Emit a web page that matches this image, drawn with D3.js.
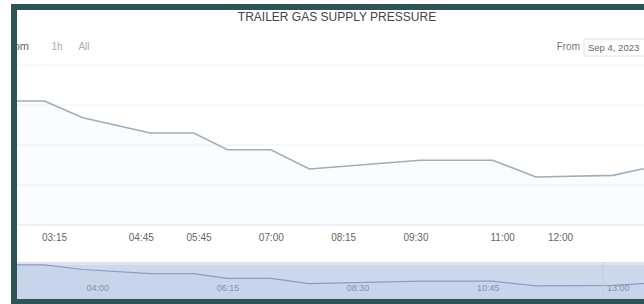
<!DOCTYPE html>
<html><head><meta charset="utf-8">
<script src="https://cdn.jsdelivr.net/npm/d3@7"></script>
<style>html,body{margin:0;padding:0;background:#fff;}svg{display:block;font-family:"Liberation Sans",Arial,sans-serif;}</style>
</head><body>
<svg id="c" width="644" height="304"></svg>
<script>
const title = "TRAILER GAS SUPPLY PRESSURE";
const times = ["02:20","03:05","03:45","04:55","05:40","06:15","07:00","07:40","09:35","10:50","11:35","12:55","13:25","14:25"];
const pressure = [155,155,134,115,115,94,94,70,81,81,60,62,70,78];
const xTickLabels = ["03:15","04:45","05:45","07:00","08:15","09:30","11:00","12:00"];
const navTickLabels = ["04:00","06:15","08:30","10:45","13:00"];
const yTicks = [0,50,100,150,200];
const rangeButtons = ["1h","All"];
const fromLabel = "From";
const fromDate = "Sep 4, 2023";

const toH = s => { const [h,m] = s.split(":").map(Number); return h + m/60; };
const data = times.map((t,i)=>({h:toH(t), v:pressure[i]}));

const svg = d3.select("#c");
const x = d3.scaleLinear().domain([toH("03:15"), toH("12:00")]).range([54, 560]);
const y = d3.scaleLinear().domain([0,200]).range([225,65]);
const yNav = d3.scaleLinear().domain([0,168]).range([299,262]);

const defs = svg.append("defs");
defs.append("clipPath").attr("id","pc").append("rect").attr("x",17).attr("y",60).attr("width",627).attr("height",170);
defs.append("clipPath").attr("id","nc").append("rect").attr("x",17).attr("y",262).attr("width",627).attr("height",37);

// gridlines
svg.append("g").selectAll("line").data(yTicks).join("line")
  .attr("x1",17).attr("x2",644).attr("y1",d=>y(d)).attr("y2",d=>y(d))
  .attr("stroke",d=>d===0?"#dfe3ea":"#f0f0f0").attr("stroke-width",1);

// title
svg.append("text").attr("x",337).attr("y",21).attr("text-anchor","middle")
  .attr("font-size",12).attr("fill","#444").text(title);

// range selector
svg.append("text").attr("x",29).attr("y",50).attr("text-anchor","end").attr("font-size",11).attr("fill","#666").text("Zoom");
svg.selectAll(".rb").data(rangeButtons).join("text").attr("class","rb")
  .attr("x",(d,i)=>57+i*27).attr("y",50).attr("text-anchor","middle").attr("font-size",10).attr("fill","#aaa").text(d=>d);
svg.append("text").attr("x",580).attr("y",50).attr("text-anchor","end").attr("font-size",10).attr("fill","#777").text(fromLabel);
svg.append("rect").attr("x",584).attr("y",39).attr("width",70).attr("height",17).attr("fill","#fff").attr("stroke","#e2e2e2");
svg.append("text").attr("x",588).attr("y",51).attr("font-size",9.5).attr("fill","#666").text(fromDate);

// area + line
const area = d3.area().x(d=>x(d.h)).y0(y(0)).y1(d=>y(d.v));
const line = d3.line().x(d=>x(d.h)).y(d=>y(d.v));
const pg = svg.append("g").attr("clip-path","url(#pc)");
pg.append("path").datum(data).attr("d",area).attr("fill","rgba(150,190,230,0.04)");
pg.append("path").datum(data).attr("d",line).attr("fill","none").attr("stroke","#9fadbb").attr("stroke-width",1.6);

// x axis labels
const xAxis = d3.axisBottom(x).tickValues(xTickLabels.map(toH)).tickFormat((d,i)=>xTickLabels[i]).tickSize(0).tickPadding(8);
const xg = svg.append("g").attr("transform","translate(0,226)").call(xAxis);
xg.select(".domain").remove();
xg.selectAll("text").attr("font-size",10).attr("fill","#666").attr("font-family","Liberation Sans, Arial, sans-serif");

// navigator
svg.append("rect").attr("x",17).attr("y",262).attr("width",627).attr("height",37).attr("fill","#cdd8ec");
svg.append("rect").attr("x",17).attr("y",262).attr("width",627).attr("height",3).attr("fill","#dce4f2");
const ng = svg.append("g").attr("clip-path","url(#nc)");
const navArea = d3.area().x(d=>x(d.h)).y0(299).y1(d=>yNav(d.v));
const navLine = d3.line().x(d=>x(d.h)).y(d=>yNav(d.v));
ng.append("path").datum(data).attr("d",navArea).attr("fill","rgba(120,140,190,0.05)");
ng.append("path").datum(data).attr("d",navLine).attr("fill","none").attr("stroke","#8a9cc4").attr("stroke-width",1.2);
const navAxis = d3.axisBottom(x).tickValues(navTickLabels.map(toH)).tickFormat((d,i)=>navTickLabels[i]).tickSize(0).tickPadding(0);
const nag = svg.append("g").attr("transform","translate(0,285)").call(navAxis);
nag.select(".domain").remove();
nag.selectAll("text").attr("font-size",9).attr("fill","#8890a8").attr("font-family","Liberation Sans, Arial, sans-serif");
svg.append("line").attr("x1",603).attr("x2",603).attr("y1",262).attr("y2",299).attr("stroke","#bfcbe2");

// frame border
svg.append("rect").attr("x",0).attr("y",0).attr("width",11).attr("height",304).attr("fill","#fff");
svg.append("rect").attr("x",0).attr("y",0).attr("width",644).attr("height",4).attr("fill","#fff");
svg.append("rect").attr("x",11).attr("y",4).attr("width",6).attr("height",300).attr("fill","#2e5457");
svg.append("rect").attr("x",11).attr("y",4).attr("width",633).attr("height",6).attr("fill","#2e5457");
svg.append("rect").attr("x",11).attr("y",299).attr("width",633).attr("height",5).attr("fill","#2e5457");
</script>
</body></html>
